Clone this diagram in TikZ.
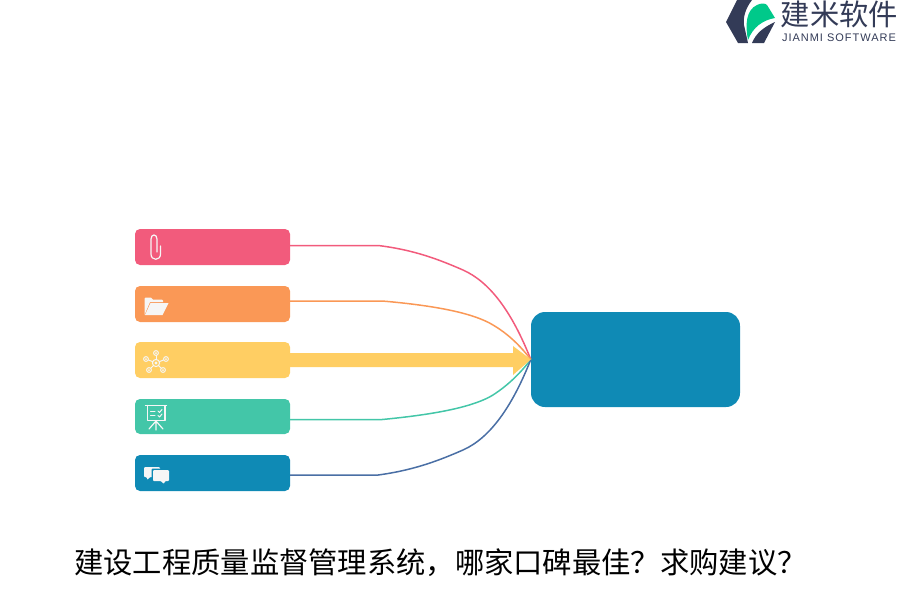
\documentclass[tikz,border=0pt]{standalone}
\usepackage{fontspec}
\setmainfont{Liberation Sans}
\newfontfamily\cjk{Noto Sans CJK SC}
\usetikzlibrary{calc}
\definecolor{cpink}{HTML}{F25B7C}
\definecolor{corange}{HTML}{FA9856}
\definecolor{cyellow}{HTML}{FFCE63}
\definecolor{cgreen}{HTML}{43C6A8}
\definecolor{cblue}{HTML}{0F8AB5}
\definecolor{cline}{HTML}{4A6FA5}
\definecolor{cdark}{HTML}{333B57}
\definecolor{cleaf}{HTML}{00C98A}
\definecolor{cicon}{HTML}{F6F6F6}
\tikzset{
  itembox/.style={fill=#1,rounded corners=5pt,minimum width=155pt,minimum height=36pt,inner sep=0pt},
  flow/.style={draw=#1,line width=1.5pt},
  icl/.style={draw=cicon,line width=1.2pt,fill=none,line cap=round,line join=round},
  icf/.style={fill=cicon,draw=none}
}
\begin{document}
\begin{tikzpicture}[x=1pt,y=-1pt]
\useasboundingbox (0,0) rectangle (900,600);
% boxes
\node[itembox=cpink] (b1) at (212.5,247) {};
\node[itembox=corange] (b2) at (212.5,304) {};
\node[itembox=cyellow] (b3) at (212.5,360) {};
\node[itembox=cgreen,minimum height=35pt] (b4) at (212.5,416.5) {};
\node[itembox=cblue] (b5) at (212.5,473) {};
\node[fill=cblue,rounded corners=14pt,minimum width=209pt,minimum height=95pt,inner sep=0pt] (hub) at (635.5,359.5) {};
% connectors
\coordinate (k1) at ($(b1.east)+(88,-1.5)$);
\coordinate (k2) at ($(b2.east)+(92,-3)$);
\coordinate (k4) at ($(b4.east)+(92,3)$);
\coordinate (k5) at ($(b5.east)+(88,2)$);
\draw[flow=cpink] (b1.east |- k1) -- (k1) .. controls (415,250) and (440,260) .. (463,270) .. controls (490,282) and (512,312) .. (hub.west);
\draw[flow=corange] (b2.east |- k2) -- (k2) .. controls (440,306) and (475,314) .. (493,325) .. controls (510,335) and (522,348) .. (hub.west);
\draw[flow=cgreen] (b4.east |- k4) -- (k4) .. controls (440,414) and (475,406) .. (493,395) .. controls (510,384) and (522,371) .. (hub.west);
\draw[flow=cline] (b5.east |- k5) -- (k5) .. controls (415,470) and (440,460) .. (463,450) .. controls (490,438) and (512,407) .. (hub.west);
% thick arrow
\coordinate (s1) at ($(b3.east)+(0,-7)$);
\fill[cyellow] (s1) -- (513,353) -- (513,346) -- (hub.west) -- (513,375) -- (513,367) -- ($(b3.east)+(0,7)$) -- cycle;
% paperclip
\draw[icl] (157,252) -- (157,239) .. controls (157,233.7) and (151,233.7) .. (151,239) -- (151,254) .. controls (151,261) and (160.5,261) .. (160.5,254) -- (160.5,246);
% folder
\fill[icf] (144.5,315) -- (144.5,298.5) -- (145.5,297.5) -- (151,297.5) -- (153,299.5) -- (162,299.5) -- (163,300.5) -- (163,302) -- (150,302) -- (147,309) -- cycle;
\fill[icf] (150.5,303) -- (168.5,303) -- (162.5,315) -- (145,315) -- cycle;
% network
\foreach \px/\py in {156/353,146/359,166/359,149/370,163/370}{
  \draw[icl,line width=1pt] (156,363) -- (\px,\py);
  \draw[icl,line width=1pt,fill=cyellow] (\px,\py) circle[radius=2.4];
  \fill[cicon] (\px,\py) circle[radius=1];
}
\draw[icl,line width=1pt,fill=cyellow] (156,363) circle[radius=3.6];
\fill[cicon] (156,363) circle[radius=1.6];
% presentation board
\draw[icl] (145.5,405.5) -- (166.5,405.5);
\draw[icl] (147.5,405.5) -- (147.5,420.5) -- (165,420.5) -- (165,405.5);
\draw[icl] (156,420.5) -- (156,430) (156,421) -- (149,429) (156,421) -- (163,429);
\draw[icl,line width=1pt] (150.5,411) -- (155,411) (150.5,415) -- (155,415);
\draw[icl,line width=1pt] (158,411) -- (159.5,412.5) -- (162,409.5) (158,415.5) -- (159.5,417) -- (162,414);
% chat bubbles
\fill[icf,rounded corners=1pt] (144,467) -- (160,467) -- (160,477) -- (150,477) -- (147,480) -- (147,477) -- (144,477) -- cycle;
\fill[cblue,rounded corners=1pt] (151.5,468.5) rectangle (169.5,482);
\fill[icf,rounded corners=1pt] (153,470) -- (169,470) -- (169,481) -- (165,481) -- (164,484) -- (161,481) -- (153,481) -- cycle;
% logo
\fill[cdark] (737,0) -- (752,0) .. controls (745,9) and (743,18) .. (744,25) -- (748,43) -- (738,43) -- (726,22) -- cycle;
\fill[cdark] (752,43) .. controls (756,33) and (764,27) .. (775,22) -- (764,43) -- cycle;
\fill[cleaf] (748,40) .. controls (745,25) and (746,10) .. (757,5) .. controls (761,3) and (765,3) .. (767,5) -- (775,18) .. controls (763,20) and (753,27) .. (748,40) -- cycle;
\node[inner sep=0pt,anchor=center,text=cdark,font=\cjk\fontsize{29.3}{31}\selectfont] (logotext) at (839.5,14) {建米软件};
\node[inner sep=0pt,anchor=center,text=cdark,font=\fontsize{11}{12}\selectfont\addfontfeatures{LetterSpace=9}] (logosub) at (839,38) {JIANMI SOFTWARE};
% title
\node[inner sep=0pt,anchor=west,text=black,font=\cjk\fontsize{29.3}{32}\selectfont] (title) at (74,563) {建设工程质量监督管理系统，哪家口碑最佳？求购建议？};
\end{tikzpicture}
\end{document}
